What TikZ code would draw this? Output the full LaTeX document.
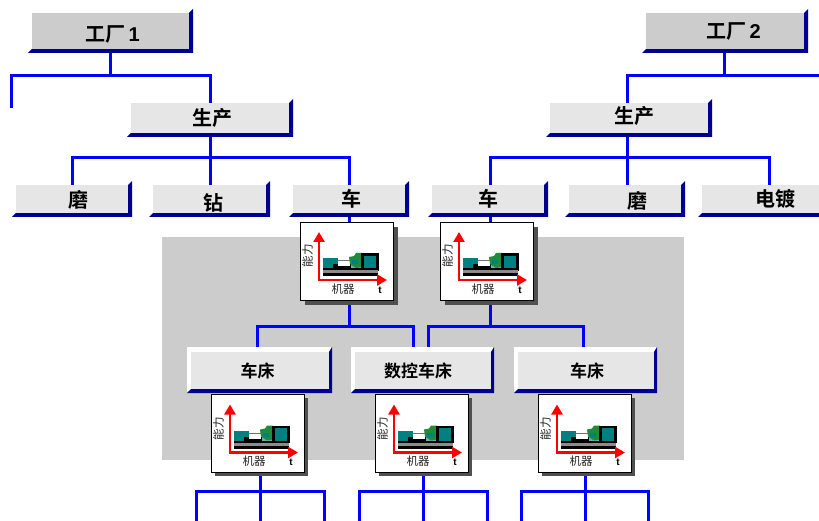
\documentclass[tikz,border=0pt]{standalone}
\usepackage{fontspec}
\setmainfont{Noto Sans CJK SC}[BoldFont={Noto Sans CJK SC Bold}]
\newfontfamily\latinb{Liberation Sans}[BoldFont={Liberation Sans Bold}]
\usetikzlibrary{backgrounds,arrows.meta}
\definecolor{busblue}{HTML}{0000FF}
\definecolor{navyedge}{HTML}{000090}
\definecolor{facegrey}{HTML}{E6E6E6}
\definecolor{topgrey}{HTML}{CCCCCC}
\definecolor{panelgrey}{HTML}{CCCCCC}
\definecolor{shadowgrey}{HTML}{505050}
\definecolor{machteal}{HTML}{008080}
\definecolor{machgreen}{HTML}{1E8C3C}
\tikzset{
  bus/.style={draw=busblue,line width=3pt},
  boxface/.style={inner sep=0pt,outer sep=0pt},
  boxtext/.style={inner sep=0pt,outer sep=0pt,text=black},
  iconface/.style={draw=black,line width=0.8pt,fill=white,inner sep=0pt,outer sep=0pt,minimum width=93pt,minimum height=78pt},
  axis/.style={draw=red,line width=2.7pt,-{Triangle[length=10pt,width=11pt]}},
  icontext/.style={inner sep=0pt,text=black!85,font=\fontsize{11.5}{11.5}\selectfont},
}
% name, x1, y1, x2, y2, size, fill, text, text centre
\newcommand{\plainbox}[9]{%
  \fill[navyedge] (#2,#5) -- (#4,#5) -- (#4,#3) -- (#4+4,#3-4) -- (#4+4,#5+4) -- (#2-4,#5+4) -- cycle;
  \node[boxface,fill=#7,minimum width=#4pt-#2pt,minimum height=#5pt-#3pt] (#1) at ({(#2+#4)/2},{(#3+#5)/2}) {};
  \node[boxtext,font=\bfseries\fontsize{#6}{#6}\selectfont] (#1 text) at (#9) {#8};
}
\newcommand{\bevelbox}[9]{%
  \fill[white] (#2-4,#5+3) -- (#2-4,#3-5) -- (#4+3,#3-5) -- (#4,#3) -- (#2,#3) -- (#2,#5) -- cycle;
  \fill[navyedge] (#2,#5) -- (#4,#5) -- (#4,#3) -- (#4+3,#3-5) -- (#4+3,#5+4) -- (#2-4,#5+4) -- cycle;
  \node[boxface,fill=#7,minimum width=#4pt-#2pt,minimum height=#5pt-#3pt] (#1) at ({(#2+#4)/2},{(#3+#5)/2}) {};
  \node[boxtext,font=\bfseries\fontsize{#6}{#6}\selectfont] (#1 text) at (#9) {#8};
}
% name, left, top, shadow offset
\newcommand{\machine}[4]{%
  \fill[shadowgrey] (#2+#4,#3+#4) rectangle (#2+93+#4,#3+78+#4);
  \node[iconface] (#1) at (#2+46.5,#3+39) {};
  \begin{scope}[shift={(#2,#3)}]
    \fill[machteal] (23,36) rectangle (38,47);
    \fill[machteal!60!white] (38,42) rectangle (62,46);
    \fill[black!55] (38,38.5) rectangle (50,39.5);
    \fill[black] (33,42) rectangle (51,46);
    \fill[white] (38,42.5) rectangle (50,44);
    \fill[machgreen] (49,35) -- (54,34) -- (56,31) -- (62,31) -- (62,45) -- (56,46) -- (50,42) -- cycle;
    \fill[machteal] (52,38) rectangle (58,42);
    \filldraw[draw=black,line width=2.6pt,fill=machteal] (62.5,32.5) rectangle (77.5,47.5);
    \fill[black] (23,46) rectangle (79,48);
    \fill[black!45] (23,48) rectangle (78,51);
    \fill[black] (23,51) rectangle (78,54);
    \draw[axis] (19,59.3) -- (19,10);
    \draw[axis] (17.7,58) -- (87,58);
    \node[icontext] at (43,67) {机器};
    \node[icontext,font=\latinb\bfseries\fontsize{10}{10}\selectfont,text=black] at (80,68) {t};
    \node[icontext,rotate=90] at (7.5,34) {能力};
  \end{scope}
}
\begin{document}
\begin{tikzpicture}[x=1pt,y=-1pt]
\useasboundingbox (0,0) rectangle (819,521);
\clip (0,0) rectangle (819,521);
\begin{pgfonlayer}{background}
\fill[panelgrey] (162,237) rectangle (684,460);
\end{pgfonlayer}
% boxes
\plainbox{fa}{32}{13}{189}{49}{20}{topgrey}{工厂\,{\latinb\bfseries 1}}{112.5,34.5}
\plainbox{fb}{646}{13}{804}{49}{20}{topgrey}{工厂\,{\latinb\bfseries 2}}{733.5,31.5}
\plainbox{pa}{131}{103}{289}{133}{20}{facegrey}{生产}{212,117.5}
\plainbox{pb}{550}{103}{708}{133}{20}{facegrey}{生产}{634,115.5}
\plainbox{ma}{16}{185}{128}{213}{20}{facegrey}{磨}{78,200}
\plainbox{za}{153}{185}{266}{213}{20}{facegrey}{钻}{213,203}
\plainbox{ca}{293}{185}{405}{213}{20}{facegrey}{车}{351,199}
\plainbox{cb}{432}{185}{544}{213}{20}{facegrey}{车}{488,199}
\plainbox{mb}{569}{185}{681}{213}{20}{facegrey}{磨}{637,201}
\plainbox{db}{702}{185}{850}{213}{20}{facegrey}{电镀}{775,199}
\bevelbox{la}{191}{352}{329}{389}{17}{facegrey}{车床}{257.5,371}
\bevelbox{lb}{355}{352}{491}{389}{17}{facegrey}{数控车床}{418,371}
\bevelbox{lc}{518}{352}{654}{389}{17}{facegrey}{车床}{587,371}
\machine{ia}{300}{222}{5}
\machine{ib}{440}{222}{5}
\machine{ic}{211}{394.5}{3.5}
\machine{id}{375}{394.5}{3.5}
\machine{ie}{538}{394.5}{3.5}
% free ends and junctions
\coordinate (fatee) at (110,76);
\coordinate (faleft) at (11,108);
\coordinate (fbtee) at (724.5,76);
\coordinate (fbright) at (819,76);
\coordinate (patee) at (210,158);
\coordinate (pbtee) at (627,158);
\coordinate (iatee) at (349.5,326);
\coordinate (ibtee) at (490,326);
\coordinate (ictee) at (260,491.5);
\coordinate (idtee) at (423,491.5);
\coordinate (ietee) at (585,491.5);
\coordinate (dbdrop) at (769,185);
\begin{pgfonlayer}{background}
\draw[bus] (fa.south -| fatee) -- (fatee);
\draw[bus] (faleft) |- (fatee);
\draw[bus] (fatee) -| (pa.north);
\draw[bus] (fb.south -| fbtee) -- (fbtee);
\draw[bus] (fbright) -- (fbtee);
\draw[bus] (fbtee) -| (pb.north -| pbtee);
\draw[bus] (pa.south -| patee) -- (patee);
\draw[bus] (patee) -| (ma.north);
\draw[bus] (patee) -- (za.north -| patee);
\draw[bus] (patee) -| (ca.north -| iatee);
\draw[bus] (pb.south -| pbtee) -- (pbtee);
\draw[bus] (pbtee) -| (cb.north -| ibtee);
\draw[bus] (pbtee) -- (mb.north -| pbtee);
\draw[bus] (pbtee) -| (dbdrop);
\draw[bus] (ca.south -| iatee) -- (ia.north -| iatee);
\draw[bus] (cb.south -| ibtee) -- (ib.north -| ibtee);
\draw[bus] (ia.south -| iatee) -- (iatee);
\coordinate (ladrop) at (257,352);
\coordinate (lbdropa) at (413,352);
\coordinate (lbdropb) at (428,352);
\coordinate (lcdrop) at (583,352);
\draw[bus] (iatee) -| (ladrop);
\draw[bus] (iatee) -| (lbdropa);
\draw[bus] (ib.south -| ibtee) -- (ibtee);
\draw[bus] (ibtee) -| (lbdropb);
\draw[bus] (ibtee) -| (lcdrop);
\foreach \n/\l/\r in {ic/196/324,id/359/487,ie/521/648}{
  \coordinate (\n dl) at (\l,521);
  \coordinate (\n dr) at (\r,521);
  \draw[bus] (\n.south -| \n tee) -- (\n tee |- \n dl);
  \draw[bus] (\n dl) |- (\n tee);
  \draw[bus] (\n dr) |- (\n tee);
}
\end{pgfonlayer}
\end{tikzpicture}
\end{document}
